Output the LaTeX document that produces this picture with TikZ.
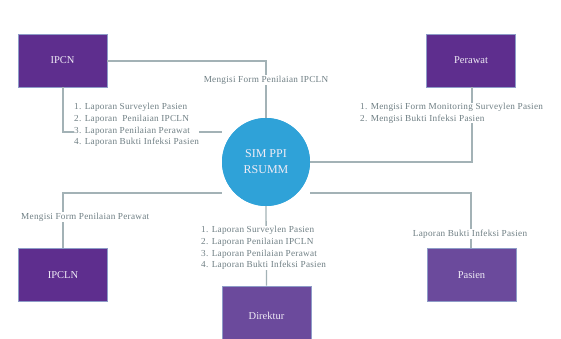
\documentclass[tikz,border=0pt]{standalone}
\usepackage{fontspec}
\setmainfont{Liberation Serif}
\newfontfamily\lblfont[LetterSpace=3]{Liberation Serif}
\definecolor{boxA}{HTML}{5E2E8E}
\definecolor{boxB}{HTML}{6B4A9C}
\definecolor{boxline}{HTML}{8E9CC8}
\definecolor{circ}{HTML}{2FA2D8}
\definecolor{conn}{HTML}{A3B2B6}
\definecolor{lbl}{HTML}{6F7F84}
\definecolor{boxtxt}{HTML}{F0ECF6}
\begin{document}
\begin{tikzpicture}[x=1pt,y=1pt,
  ent/.style={draw=boxline,line width=0.6pt,fill=boxA,minimum width=89pt,minimum height=53pt,
    text=boxtxt,font=\fontsize{10.5}{12}\selectfont,inner sep=0pt},
  entb/.style={ent,fill=boxB},
  conn/.style={draw=conn,line width=1.3pt},
  lab/.style={fill=white,text=lbl,font=\lblfont\fontsize{9.2}{11.8}\selectfont,inner sep=1pt,align=left}]
\useasboundingbox (0,0) rectangle (561,339);
\clip (0,0) rectangle (561,339);
% nodes
\node[ent] (ipcn) at (62.5,278.5) {IPCN};
\node[ent] (perawat) at (471,278.5) {Perawat};
\node[ent] (ipcln) at (63,64) {IPCLN};
\node[entb,minimum height=60pt] (direktur) at (266.5,23) {Direktur};
\node[entb] (pasien) at (471.5,64) {Pasien};
\node[circle,fill=circ,minimum size=88pt,inner sep=0pt] (sim) at (266,177) {};
% coordinates
\coordinate (c1) at (266,278);
\coordinate (c2) at (63,207);
\coordinate (c3) at (472,177);
\coordinate (c4) at (63,146);
\coordinate (c5) at (471,146);
% connectors
\draw[conn] (ipcn.east |- c1) -- (c1) -- (sim.north);
\draw[conn] (ipcn.south -| c2) -- (c2) -- (sim.west |- c2);
\draw[conn] (perawat.south -| c3) -- (c3) -- (sim.east);
\draw[conn] (ipcln.north -| c4) -- (c4) -- (sim.west |- c4);
\draw[conn] (pasien.north -| c5) -- (c5) -- (sim.east |- c5);
\draw[conn] (sim.south) -- (direktur.north);
% circle drawn over line ends
\node[circle,fill=circ,minimum size=88pt,inner sep=0pt,text=boxtxt,align=center,
  font=\fontsize{12}{16}\selectfont] (simtop) at (sim.center) {SIM PPI\\RSUMM};
% labels
\node[lab] (l1) at (266,259) {Mengisi Form Penilaian IPCLN};
\node[lab,anchor=north west,inner sep=0pt] (l2) at (74,236) {1. Laporan Surveylen Pasien\\2. Laporan~ Penilaian IPCLN\\3. Laporan Penilaian Perawat\\4. Laporan Bukti Infeksi Pasien};
\node[lab,anchor=north west,inner sep=0pt] (l3) at (360,236) {1. Mengisi Form Monitoring Surveylen Pasien\\2. Mengisi Bukti Infeksi Pasien};
\node[lab,anchor=west] (l4) at (20,122) {Mengisi Form Penilaian Perawat};
\node[lab] (l5) at (470,105) {Laporan Bukti Infeksi Pasien};
\node[lab,anchor=north west,inner sep=0pt] (l6) at (201,113) {1. Laporan Surveylen Pasien\\2. Laporan Penilaian IPCLN\\3. Laporan Penilaian Perawat\\4. Laporan Bukti Infeksi Pasien};
\end{tikzpicture}
\end{document}
